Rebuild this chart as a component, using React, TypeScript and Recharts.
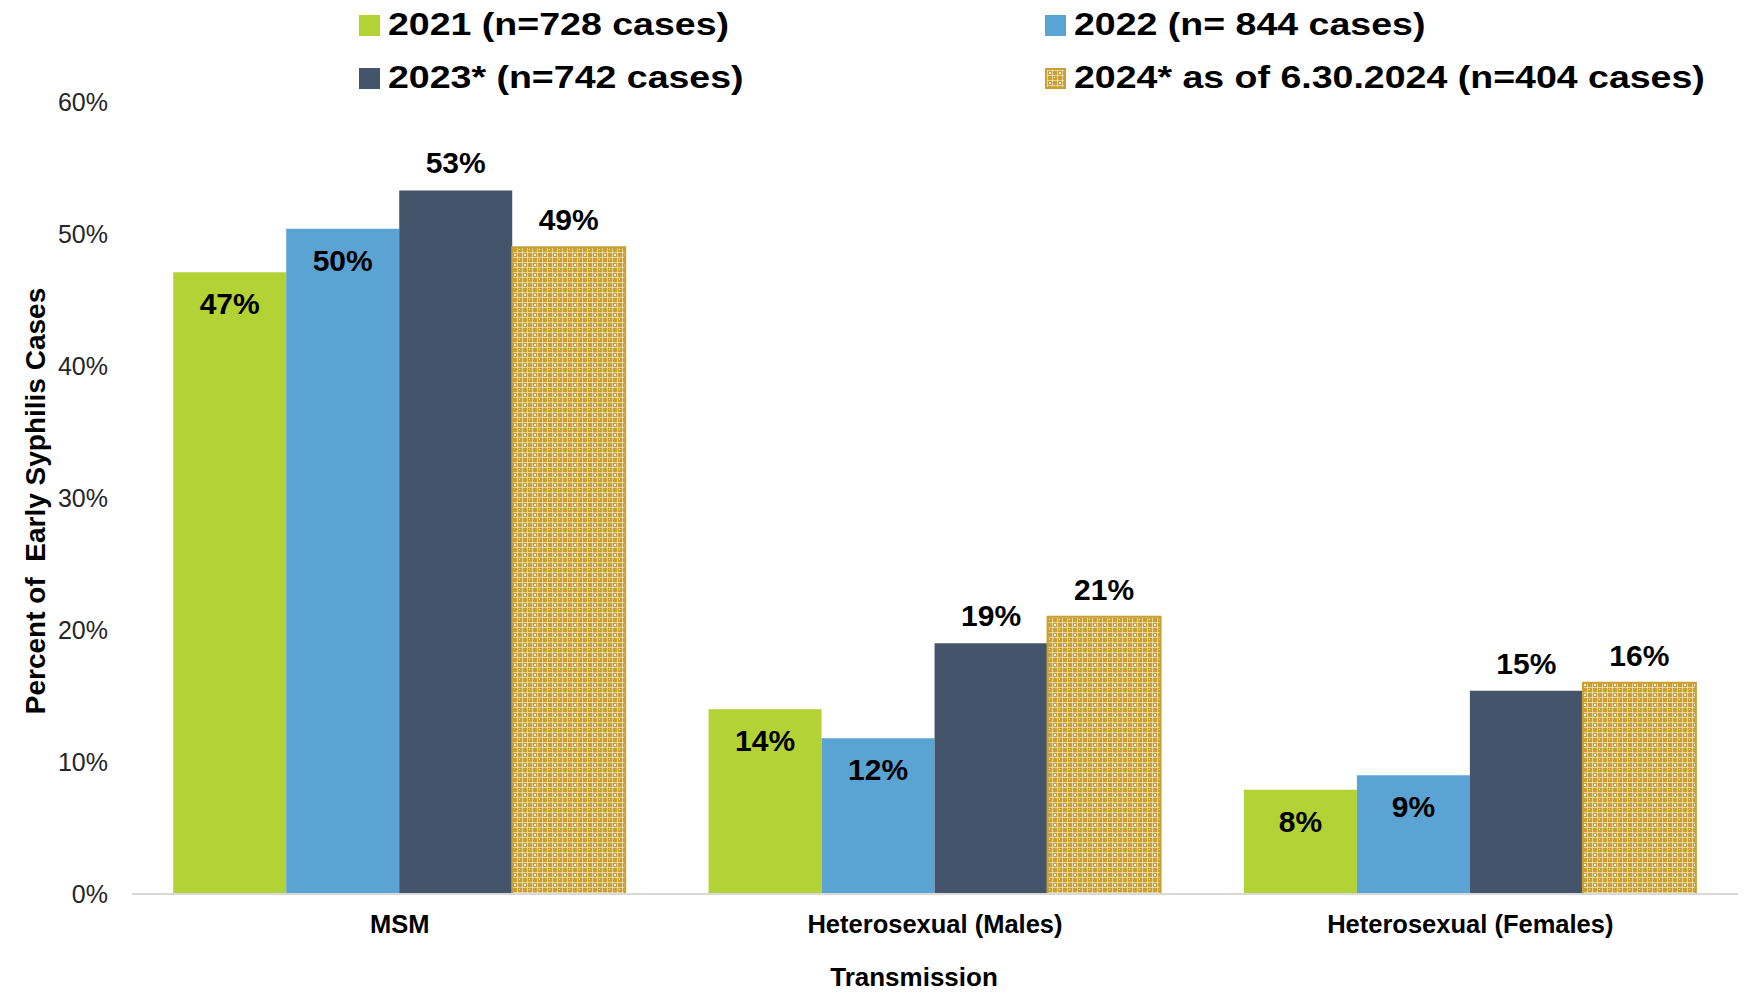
import React from 'react';
import { BarChart, Bar, XAxis, YAxis, Legend, LabelList } from 'recharts';

const categories = ['MSM', 'Heterosexual (Males)', 'Heterosexual (Females)'];
const values2021 = [47.1, 14.0, 7.9];
const values2022 = [50.4, 11.8, 9.0];
const values2023 = [53.3, 19.0, 15.4];
const values2024 = [49.0, 21.0, 16.0];
const seriesNames = [
  '2021 (n=728 cases)',
  '2022 (n= 844 cases)',
  '2023* (n=742 cases)',
  '2024* as of 6.30.2024 (n=404 cases)',
];
const yTicks = [0, 10, 20, 30, 40, 50, 60];

const GREEN = '#B2D235';
const BLUE = '#5BA3D3';
const SLATE = '#44546A';
const GOLD = '#C9A033';

const data = categories.map((cat, i) => ({
  cat,
  y2021: values2021[i],
  y2022: values2022[i],
  y2023: values2023[i],
  y2024: values2024[i],
}));

const PatternDef = ({ id }: { id: string }) => (
  <pattern id={id} width="10" height="10" patternUnits="userSpaceOnUse">
    <rect width="10" height="10" fill={GOLD} />
    <rect x="0" y="2" width="10" height="1" fill="#fff" opacity="0.5" />
    <rect x="0" y="7" width="10" height="1" fill="#fff" opacity="0.5" />
    <rect x="2" y="0" width="1" height="10" fill="#fff" opacity="0.5" />
    <rect x="7" y="0" width="1" height="10" fill="#fff" opacity="0.5" />
    <rect x="4" y="4" width="2" height="2" fill="#fff" opacity="0.8" />
    <rect x="9" y="9" width="1" height="1" fill="#fff" opacity="0.8" />
  </pattern>
);

const makeLabel = (inside: boolean) => (props: any) => {
  const { x, y, width, value } = props;
  const cx = Number(x) + Number(width) / 2;
  const cy = inside ? Number(y) + 31 : Number(y) - 28;
  return (
    <text
      x={cx}
      y={cy}
      dy="0.36em"
      textAnchor="middle"
      fontSize={30}
      fontWeight={700}
      fill="#000"
      fontFamily="'Liberation Sans', Arial, sans-serif"
    >
      {`${Math.round(Number(value))}%`}
    </text>
  );
};

const YTitle = (props: any) => {
  const vb = props.viewBox || {};
  const cx = vb.x + 35;
  const cy = vb.y + vb.height / 2 + 3;
  return (
    <text
      x={cx}
      y={cy}
      transform={`rotate(-90, ${cx}, ${cy})`}
      textAnchor="middle"
      dy="0.36em"
      fontSize={28}
      fontWeight={700}
      fill="#000"
      style={{ whiteSpace: 'pre' }}
      fontFamily="'Liberation Sans', Arial, sans-serif"
    >
      {'Percent of  Early Syphilis Cases'}
    </text>
  );
};

const XTitle = (props: any) => {
  const vb = props.viewBox || {};
  const cx = vb.x + vb.width / 2 - 21;
  const cy = vb.y + 83;
  return (
    <text
      x={cx}
      y={cy}
      dy="0.36em"
      textAnchor="middle"
      fontSize={26}
      fontWeight={700}
      fill="#000"
      fontFamily="'Liberation Sans', Arial, sans-serif"
    >
      Transmission
    </text>
  );
};

const legendPos = [
  { left: 359, top: 14 },
  { left: 1045, top: 14 },
  { left: 359, top: 67 },
  { left: 1045, top: 67 },
];
const legendColors = [GREEN, BLUE, SLATE, 'pattern'];

const renderLegend = () => (
  <div style={{ position: 'relative', width: 1750, height: 105 }}>
    {seriesNames.map((name, i) => (
      <div
        key={name}
        style={{
          position: 'absolute',
          left: legendPos[i].left,
          top: legendPos[i].top,
          height: 22,
          display: 'flex',
          alignItems: 'center',
          whiteSpace: 'pre',
        }}
      >
        {legendColors[i] === 'pattern' ? (
          <svg width={21} height={21} style={{ display: 'block' }}>
            <defs>
              <PatternDef id="goldLegend" />
            </defs>
            <rect x={1} y={1} width={19} height={19} fill="url(#goldLegend)" stroke={GOLD} strokeWidth={2} />
          </svg>
        ) : (
          <div style={{ width: 21, height: 21, background: legendColors[i] }} />
        )}
        <span
          style={{
            marginLeft: 8,
            fontFamily: "'Liberation Sans', Arial, sans-serif",
            fontWeight: 700,
            fontSize: 31,
            lineHeight: '22px',
            color: '#000',
            display: 'inline-block',
            transform: 'scaleX(1.21)',
            transformOrigin: 'left center',
          }}
        >
          {name}
        </span>
      </div>
    ))}
  </div>
);

export default function App() {
  return (
    <div style={{ position: 'relative', width: 1750, height: 994, background: '#fff' }}>
      <style>{'body{margin:0;background:#fff;}'}</style>
      <BarChart
        width={1750}
        height={994}
        data={data}
        margin={{ top: 102, right: 12, bottom: 0, left: 0 }}
        barCategoryGap="7.7%"
        barGap={0}
      >
        <defs>
          <PatternDef id="goldBars" />
        </defs>
        <Legend
          layout="vertical"
          align="center"
          verticalAlign="middle"
          content={renderLegend}
          wrapperStyle={{ top: 0, left: 0, width: 1750, height: 105 }}
        />
        <XAxis
          dataKey="cat"
          height={100}
          interval={0}
          tickLine={false}
          tickSize={6}
          tickMargin={15}
          axisLine={{ stroke: '#D9D9D9', strokeWidth: 2 }}
          tick={{ fontSize: 25.5, fontWeight: 700, fill: '#000', fontFamily: "'Liberation Sans', Arial, sans-serif" }}
          label={<XTitle />}
        />
        <YAxis
          width={132}
          domain={[0, 60]}
          ticks={yTicks}
          interval={0}
          axisLine={false}
          tickLine={false}
          tickSize={6}
          tickMargin={18}
          tickFormatter={(v: number) => `${v}%`}
          tick={{ fontSize: 25, fill: '#262626', fontFamily: "'Liberation Sans', Arial, sans-serif" }}
          label={<YTitle />}
        />
        <Bar dataKey="y2021" name={seriesNames[0]} fill={GREEN} isAnimationActive={false}>
          <LabelList dataKey="y2021" content={makeLabel(true)} />
        </Bar>
        <Bar dataKey="y2022" name={seriesNames[1]} fill={BLUE} isAnimationActive={false}>
          <LabelList dataKey="y2022" content={makeLabel(true)} />
        </Bar>
        <Bar dataKey="y2023" name={seriesNames[2]} fill={SLATE} isAnimationActive={false}>
          <LabelList dataKey="y2023" content={makeLabel(false)} />
        </Bar>
        <Bar
          dataKey="y2024"
          name={seriesNames[3]}
          fill="url(#goldBars)"
          stroke={GOLD}
          strokeWidth={2}
          isAnimationActive={false}
        >
          <LabelList dataKey="y2024" content={makeLabel(false)} />
        </Bar>
      </BarChart>
    </div>
  );
}
